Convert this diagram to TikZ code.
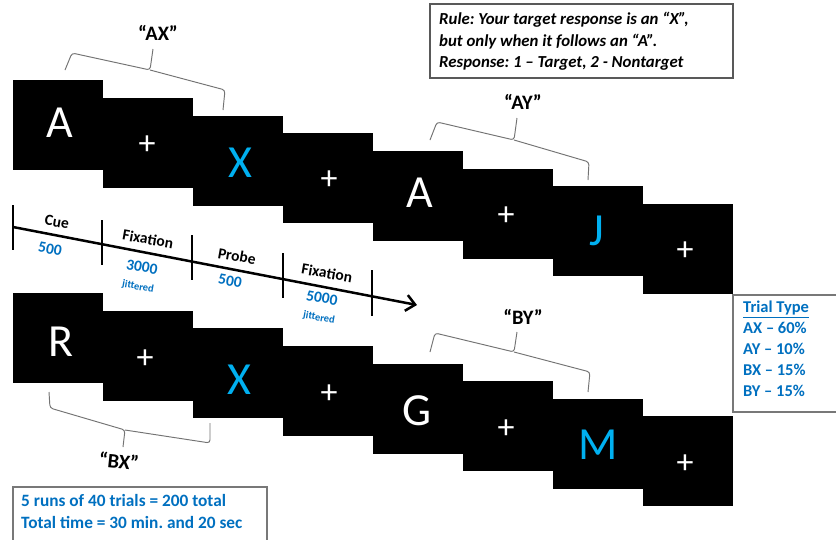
\documentclass[tikz,border=0pt]{standalone}
\usepackage{fontspec}
\setmainfont{Carlito}
\usetikzlibrary{arrows.meta}
\definecolor{lblue}{RGB}{0,176,240}
\definecolor{dblue}{RGB}{0,112,192}
\definecolor{bracegray}{RGB}{115,115,115}
\definecolor{boxgray}{RGB}{120,120,120}
\frenchspacing
\begin{document}
\begin{tikzpicture}[x=1pt,y=-1pt,
  sq/.style={fill=black, draw=none, minimum width=90pt, minimum height=90pt, inner sep=0pt, anchor=north west},
  big/.style={text=white, font=\fontsize{46}{46}\selectfont, inner sep=0pt},
  bigb/.style={big, text=lblue},
  plus/.style={text=white, font=\fontsize{34}{34}\selectfont, inner sep=0pt},
  tlab/.style={font=\bfseries\fontsize{15.5}{15.5}\selectfont, rotate=-10, inner sep=0pt},
  tnum/.style={tlab, text=dblue},
  tjit/.style={font=\bfseries\fontsize{10.5}{10.5}\selectfont, text=dblue, rotate=-10, inner sep=0pt},
  brace/.style={draw=bracegray, line width=0.95pt, rounded corners=3pt},
  qlab/.style={font=\bfseries\fontsize{20.5}{20.5}\selectfont, inner sep=0pt},
  tick/.style={line width=2pt}
]
\useasboundingbox (0,0) rectangle (836,539);
\fill[white] (0,0) rectangle (836,539);

% top row
\foreach \i in {1,...,8} {
  \pgfmathsetmacro{\xx}{13+90*(\i-1)}
  \pgfmathsetmacro{\yy}{80+17.7*(\i-1)}
  \node[sq] (t\i) at (\xx,\yy) {};
}
% bottom row
\foreach \i in {1,...,8} {
  \pgfmathsetmacro{\xx}{13+90*(\i-1)}
  \pgfmathsetmacro{\yy}{293+17.6*(\i-1)}
  \node[sq] (b\i) at (\xx,\yy) {};
}

% top letters
\node[big]  (tA1) at ([shift={(2,-2)}]t1.center) {A};
\node[plus] (tp1) at ([shift={(-1,2)}]t2.center) {+};
\node[bigb] (tX)  at ([shift={(2,2)}]t3.center) {X};
\node[plus] (tp2) at ([shift={(1,2)}]t4.center) {+};
\node[big]  (tA2) at ([shift={(2,-3)}]t5.center) {A};
\node[plus] (tp3) at ([shift={(-2,2)}]t6.center) {+};
\node[bigb] (tJ)  at ([shift={(-1,-1)}]t7.center) {J};
\node[plus] (tp4) at ([shift={(-3,2)}]t8.center) {+};

% bottom letters
\node[big]  (bR)  at ([shift={(3,4)}]b1.center) {R};
\node[plus] (bp1) at ([shift={(-3,3)}]b2.center) {+};
\node[bigb] (bX)  at ([shift={(1,6)}]b3.center) {X};
\node[plus] (bp2) at ([shift={(1,3)}]b4.center) {+};
\node[big]  (bG)  at ([shift={(-1,2)}]b5.center) {G};
\node[plus] (bp3) at ([shift={(-2,3)}]b6.center) {+};
\node[bigb] (bM)  at ([shift={(0,1)}]b7.center) {M};
\node[plus] (bp4) at ([shift={(-3,3)}]b8.center) {+};

% timeline
\coordinate (tl0) at (13,227);
\coordinate (tlend) at (417,305);
\draw[line width=2.5pt, -{Straight Barb[length=9pt,width=16pt,line width=2.5pt]}] (tl0) -- (tlend);
\draw[tick] (13,205) -- (13,250);
\draw[tick] (102,220) -- (102,265);
\draw[tick] (192,235) -- (192,280);
\draw[tick] (283,253) -- (283,298);
\draw[tick] (372,270) -- (372,316);

\node[tlab] (cue)  at (57,222) {Cue};
\node[tnum] (n1)   at (50,249) {500};
\node[tlab] (fix1) at (148,239) {Fixation};
\node[tnum] (n2)   at (142,267) {3000};
\node[tjit] (j1)   at (138,287) {jittered};
\node[tlab] (prb)  at (237,256) {Probe};
\node[tnum] (n3)   at (230,281) {500};
\node[tlab] (fix2) at (327,273) {Fixation};
\node[tnum] (n4)   at (322,298) {5000};
\node[tjit] (j2)   at (319,318) {jittered};

% braces
\draw[brace] (65,70) -- (72,53) -- (150,70) -- (153,49);
\draw[brace] (150,70) -- (225,90) -- (223,110);
\node[qlab] (qAX) at (158,33) {“AX”};

\draw[brace] (430,140) -- (437,122) -- (514,140) -- (517,118);
\draw[brace] (514,140) -- (589,162) -- (588,180);
\node[qlab] (qAY) at (523,102) {“AY”};

\draw[brace] (430,352) -- (435,333) -- (514,352) -- (517,332);
\draw[brace] (514,352) -- (590,372) -- (588,392);
\node[qlab] (qBY) at (523,317) {“BY”};

\draw[brace] (49,392) -- (50,408) -- (125,430) -- (123,447);
\draw[brace] (125,430) -- (210,443) -- (210,423);
\node[qlab, rotate=-6] (qBX) at (119,461) {“BX”};

% rule box
\draw[draw=black!65, line width=1.5pt] (430,4) rectangle (733,78);
\node[anchor=west, align=left, inner sep=0pt, font=\bfseries\itshape\fontsize{16.8}{21.5}\selectfont] (rule) at (439,41.5)
  {Rule: Your target response is an “X”,\\but only when it follows an “A”.\\Response: 1 – Target, 2 - Nontarget};

% trial type box
\draw[draw=boxgray, line width=1.2pt] (837,295) -- (733,295) -- (733,412) -- (837,412);
\node[anchor=north west, align=left, inner sep=0pt, text=dblue, font=\bfseries\fontsize{16.5}{21}\selectfont] (tt) at (743,301)
  {\underline{Trial Type}\\AX – 60\%\\AY – 10\%\\BX – 15\%\\BY – 15\%};

% runs box
\draw[draw=boxgray, line width=1.2pt] (13,540) -- (13,487) -- (267,487) -- (267,540);
\node[anchor=north west, align=left, inner sep=0pt, text=dblue, font=\bfseries\fontsize{17.3}{22}\selectfont] (runs) at (21,494)
  {5 runs of 40 trials = 200 total\\Total time = 30 min. and 20 sec};
\end{tikzpicture}
\end{document}
